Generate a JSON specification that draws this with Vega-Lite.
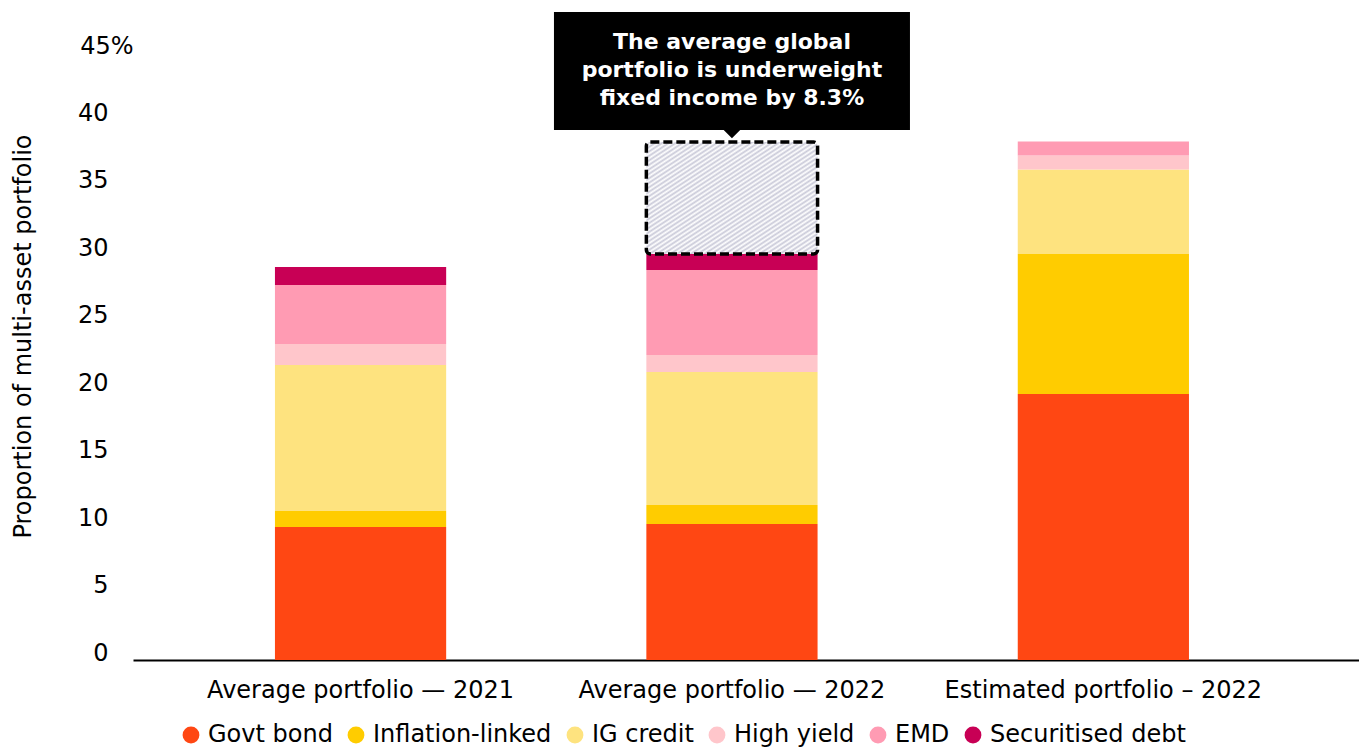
{
  "$schema": "https://vega.github.io/schema/vega-lite/v6.json",
  "width": 1226,
  "height": 607,
  "autosize": {"type": "none"},
  "padding": {"left": 133, "top": 53, "right": 0, "bottom": 87},
  "background": "white",
  "config": {
    "view": {"stroke": null},
    "font": "DejaVu Sans"
  },
  "datasets": {
    "alloc": [
      {"portfolio": "Average portfolio — 2021", "asset": "Govt bond", "value": 9.86},
      {"portfolio": "Average portfolio — 2021", "asset": "Inflation-linked", "value": 1.19},
      {"portfolio": "Average portfolio — 2021", "asset": "IG credit", "value": 10.82},
      {"portfolio": "Average portfolio — 2021", "asset": "High yield", "value": 1.56},
      {"portfolio": "Average portfolio — 2021", "asset": "EMD", "value": 4.37},
      {"portfolio": "Average portfolio — 2021", "asset": "Securitised debt", "value": 1.33},
      {"portfolio": "Average portfolio — 2022", "asset": "Govt bond", "value": 10.08},
      {"portfolio": "Average portfolio — 2022", "asset": "Inflation-linked", "value": 1.41},
      {"portfolio": "Average portfolio — 2022", "asset": "IG credit", "value": 9.86},
      {"portfolio": "Average portfolio — 2022", "asset": "High yield", "value": 1.26},
      {"portfolio": "Average portfolio — 2022", "asset": "EMD", "value": 6.30},
      {"portfolio": "Average portfolio — 2022", "asset": "Securitised debt", "value": 1.19},
      {"portfolio": "Estimated portfolio – 2022", "asset": "Govt bond", "value": 19.72},
      {"portfolio": "Estimated portfolio – 2022", "asset": "Inflation-linked", "value": 10.38},
      {"portfolio": "Estimated portfolio – 2022", "asset": "IG credit", "value": 6.26},
      {"portfolio": "Estimated portfolio – 2022", "asset": "High yield", "value": 1.04},
      {"portfolio": "Estimated portfolio – 2022", "asset": "EMD", "value": 1.04},
      {"portfolio": "Estimated portfolio – 2022", "asset": "Securitised debt", "value": 0}
    ],
    "gap": [
      {"portfolio": "Average portfolio — 2022", "low": 30.1, "high": 38.4}
    ],
    "callout": [
      {"portfolio": "Average portfolio — 2022", "low": 39.29, "high": 48.04, "pointer": 38.99, "first": 45.82, "label": "The average global\nportfolio is underweight\nfixed income by 8.3%"}
    ]
  },
  "encoding": {
    "x": {
      "field": "portfolio",
      "type": "nominal",
      "sort": ["Average portfolio — 2021", "Average portfolio — 2022", "Estimated portfolio – 2022"],
      "scale": {"paddingInner": 0.539, "paddingOuter": 0.42, "align": 0.455},
      "axis": {
        "title": null,
        "labelAngle": 0,
        "labelFont": "DejaVu Sans",
        "labelFontSize": 24,
        "labelColor": "#000000",
        "labelPadding": 18,
        "labelBaseline": "top",
        "labelLimit": 500,
        "ticks": false,
        "tickSize": 0,
        "domain": true,
        "domainColor": "#000000",
        "domainWidth": 2,
        "grid": false
      }
    }
  },
  "layer": [
    {
      "data": {"name": "alloc"},
      "transform": [
        {"calculate": "indexof(['Govt bond', 'Inflation-linked', 'IG credit', 'High yield', 'EMD', 'Securitised debt'], datum.asset)", "as": "stackOrder"}
      ],
      "mark": {"type": "bar"},
      "encoding": {
        "y": {
          "field": "value",
          "type": "quantitative",
          "stack": "zero",
          "title": "Proportion of multi-asset portfolio",
          "scale": {"domain": [0, 45], "nice": false, "zero": true},
          "axis": {
            "titleFont": "DejaVu Sans",
            "titleFontSize": 24,
            "titleFontWeight": "normal",
            "titleColor": "#000000",
            "titleAngle": -90,
            "titleX": -110,
            "titleY": 283,
            "titleBaseline": "middle",
            "titleAlign": "center",
            "values": [0, 5, 10, 15, 20, 25, 30, 35, 40, 45],
            "labelExpr": "datum.value == 45 ? '45%' : datum.label",
            "labelFont": "DejaVu Sans",
            "labelFontSize": 24,
            "labelColor": "#000000",
            "labelAlign": "right",
            "labelBaseline": "middle",
            "labelOffset": -7,
            "labelPadding": {"condition": {"test": "datum.value == 45", "value": 0}, "value": 25},
            "domain": false,
            "ticks": false,
            "tickSize": 0,
            "grid": false
          }
        },
        "order": {"field": "stackOrder", "type": "quantitative", "sort": "ascending"},
        "color": {
          "field": "asset",
          "type": "nominal",
          "sort": ["Govt bond", "Inflation-linked", "IG credit", "High yield", "EMD", "Securitised debt"],
          "scale": {
            "domain": ["Govt bond", "Inflation-linked", "IG credit", "High yield", "EMD", "Securitised debt"],
            "range": ["#FF4713", "#FFCC00", "#FEE37F", "#FFC6CB", "#FF9BB3", "#C80055"]
          },
          "legend": {
            "title": null,
            "orient": "none",
            "direction": "horizontal",
            "legendX": 46,
            "legendY": 670,
            "symbolType": "circle",
            "symbolSize": 283,
            "symbolStrokeWidth": 0,
            "symbolOpacity": 1,
            "labelFont": "DejaVu Sans",
            "labelFontSize": 24,
            "labelColor": "#000000",
            "labelOffset": 5,
            "columnPadding": 11,
            "padding": 0,
            "labelLimit": 400
          }
        }
      }
    },
    {
      "data": {"name": "gap"},
      "mark": {
        "type": "bar",
        "stroke": "#000000",
        "strokeWidth": 3.5,
        "strokeDash": [9, 4],
        "cornerRadius": 4,
        "fill": {
          "gradient": "linear",
          "x1": 0, "y1": 0, "x2": 1, "y2": 1,
          "stops": [
            {"offset": 0.00, "color": "#ffffff"}, {"offset": 0.01, "color": "#c9c9d8"},
            {"offset": 0.02, "color": "#ffffff"}, {"offset": 0.03, "color": "#c9c9d8"},
            {"offset": 0.04, "color": "#ffffff"}, {"offset": 0.05, "color": "#c9c9d8"},
            {"offset": 0.06, "color": "#ffffff"}, {"offset": 0.07, "color": "#c9c9d8"},
            {"offset": 0.08, "color": "#ffffff"}, {"offset": 0.09, "color": "#c9c9d8"},
            {"offset": 0.10, "color": "#ffffff"}, {"offset": 0.11, "color": "#c9c9d8"},
            {"offset": 0.12, "color": "#ffffff"}, {"offset": 0.13, "color": "#c9c9d8"},
            {"offset": 0.14, "color": "#ffffff"}, {"offset": 0.15, "color": "#c9c9d8"},
            {"offset": 0.16, "color": "#ffffff"}, {"offset": 0.17, "color": "#c9c9d8"},
            {"offset": 0.18, "color": "#ffffff"}, {"offset": 0.19, "color": "#c9c9d8"},
            {"offset": 0.20, "color": "#ffffff"}, {"offset": 0.21, "color": "#c9c9d8"},
            {"offset": 0.22, "color": "#ffffff"}, {"offset": 0.23, "color": "#c9c9d8"},
            {"offset": 0.24, "color": "#ffffff"}, {"offset": 0.25, "color": "#c9c9d8"},
            {"offset": 0.26, "color": "#ffffff"}, {"offset": 0.27, "color": "#c9c9d8"},
            {"offset": 0.28, "color": "#ffffff"}, {"offset": 0.29, "color": "#c9c9d8"},
            {"offset": 0.30, "color": "#ffffff"}, {"offset": 0.31, "color": "#c9c9d8"},
            {"offset": 0.32, "color": "#ffffff"}, {"offset": 0.33, "color": "#c9c9d8"},
            {"offset": 0.34, "color": "#ffffff"}, {"offset": 0.35, "color": "#c9c9d8"},
            {"offset": 0.36, "color": "#ffffff"}, {"offset": 0.37, "color": "#c9c9d8"},
            {"offset": 0.38, "color": "#ffffff"}, {"offset": 0.39, "color": "#c9c9d8"},
            {"offset": 0.40, "color": "#ffffff"}, {"offset": 0.41, "color": "#c9c9d8"},
            {"offset": 0.42, "color": "#ffffff"}, {"offset": 0.43, "color": "#c9c9d8"},
            {"offset": 0.44, "color": "#ffffff"}, {"offset": 0.45, "color": "#c9c9d8"},
            {"offset": 0.46, "color": "#ffffff"}, {"offset": 0.47, "color": "#c9c9d8"},
            {"offset": 0.48, "color": "#ffffff"}, {"offset": 0.49, "color": "#c9c9d8"},
            {"offset": 0.50, "color": "#ffffff"}, {"offset": 0.51, "color": "#c9c9d8"},
            {"offset": 0.52, "color": "#ffffff"}, {"offset": 0.53, "color": "#c9c9d8"},
            {"offset": 0.54, "color": "#ffffff"}, {"offset": 0.55, "color": "#c9c9d8"},
            {"offset": 0.56, "color": "#ffffff"}, {"offset": 0.57, "color": "#c9c9d8"},
            {"offset": 0.58, "color": "#ffffff"}, {"offset": 0.59, "color": "#c9c9d8"},
            {"offset": 0.60, "color": "#ffffff"}, {"offset": 0.61, "color": "#c9c9d8"},
            {"offset": 0.62, "color": "#ffffff"}, {"offset": 0.63, "color": "#c9c9d8"},
            {"offset": 0.64, "color": "#ffffff"}, {"offset": 0.65, "color": "#c9c9d8"},
            {"offset": 0.66, "color": "#ffffff"}, {"offset": 0.67, "color": "#c9c9d8"},
            {"offset": 0.68, "color": "#ffffff"}, {"offset": 0.69, "color": "#c9c9d8"},
            {"offset": 0.70, "color": "#ffffff"}, {"offset": 0.71, "color": "#c9c9d8"},
            {"offset": 0.72, "color": "#ffffff"}, {"offset": 0.73, "color": "#c9c9d8"},
            {"offset": 0.74, "color": "#ffffff"}, {"offset": 0.75, "color": "#c9c9d8"},
            {"offset": 0.76, "color": "#ffffff"}, {"offset": 0.77, "color": "#c9c9d8"},
            {"offset": 0.78, "color": "#ffffff"}, {"offset": 0.79, "color": "#c9c9d8"},
            {"offset": 0.80, "color": "#ffffff"}, {"offset": 0.81, "color": "#c9c9d8"},
            {"offset": 0.82, "color": "#ffffff"}, {"offset": 0.83, "color": "#c9c9d8"},
            {"offset": 0.84, "color": "#ffffff"}, {"offset": 0.85, "color": "#c9c9d8"},
            {"offset": 0.86, "color": "#ffffff"}, {"offset": 0.87, "color": "#c9c9d8"},
            {"offset": 0.88, "color": "#ffffff"}, {"offset": 0.89, "color": "#c9c9d8"},
            {"offset": 0.90, "color": "#ffffff"}, {"offset": 0.91, "color": "#c9c9d8"},
            {"offset": 0.92, "color": "#ffffff"}, {"offset": 0.93, "color": "#c9c9d8"},
            {"offset": 0.94, "color": "#ffffff"}, {"offset": 0.95, "color": "#c9c9d8"},
            {"offset": 0.96, "color": "#ffffff"}, {"offset": 0.97, "color": "#c9c9d8"},
            {"offset": 0.98, "color": "#ffffff"}, {"offset": 0.99, "color": "#c9c9d8"},
            {"offset": 1.00, "color": "#ffffff"}
          ]
        }
      },
      "encoding": {
        "y": {"field": "low", "type": "quantitative", "title": "Proportion of multi-asset portfolio"},
        "y2": {"field": "high"}
      }
    },
    {
      "data": {"name": "callout"},
      "mark": {"type": "bar", "width": 356, "fill": "#000000"},
      "encoding": {
        "y": {"field": "low", "type": "quantitative", "title": "Proportion of multi-asset portfolio"},
        "y2": {"field": "high"}
      }
    },
    {
      "data": {"name": "callout"},
      "mark": {"type": "point", "shape": "M-1,-0.5L1,-0.5L0,0.5Z", "size": 289, "filled": true, "fill": "#000000", "opacity": 1, "strokeWidth": 0},
      "encoding": {
        "y": {"field": "pointer", "type": "quantitative", "title": "Proportion of multi-asset portfolio"}
      }
    },
    {
      "data": {"name": "callout"},
      "mark": {"type": "text", "lineBreak": "\n", "lineHeight": 28, "font": "DejaVu Sans", "fontSize": 22, "fontWeight": "bold", "fill": "#ffffff", "align": "center", "baseline": "middle"},
      "encoding": {
        "y": {"field": "first", "type": "quantitative", "title": "Proportion of multi-asset portfolio"},
        "text": {"field": "label"}
      }
    }
  ]
}
